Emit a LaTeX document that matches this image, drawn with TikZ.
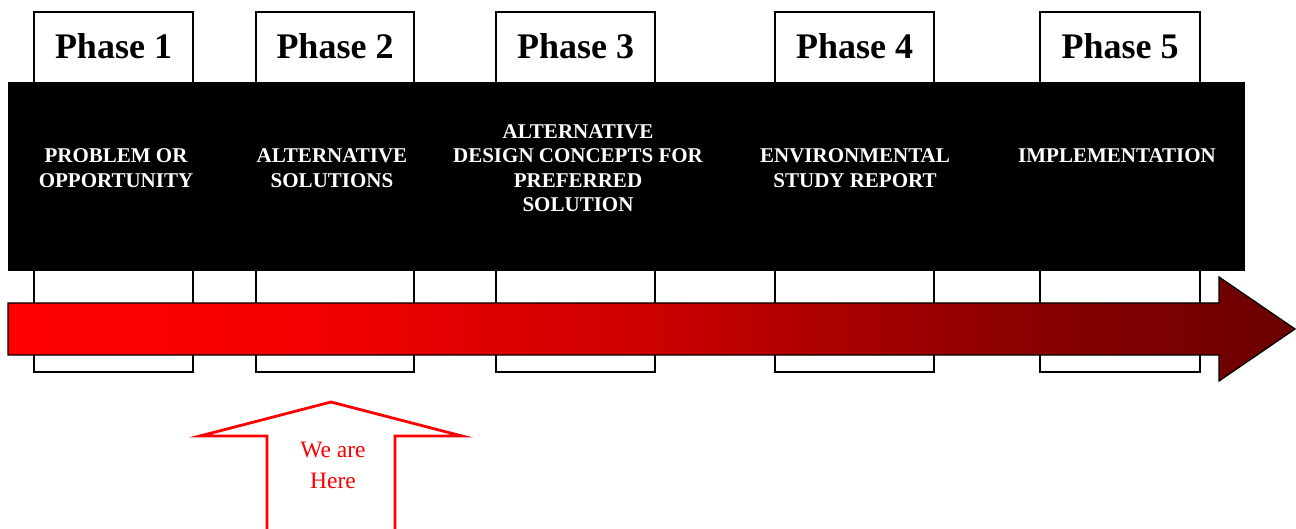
\documentclass[tikz,border=0pt]{standalone}
\usepackage{fontspec}
\setmainfont{Liberation Serif}
\pgfdeclarehorizontalshading{timeline}{100bp}{rgb(0bp)=(1,0,0); rgb(25bp)=(1,0,0); rgb(36.35bp)=(0.961,0,0); rgb(49.95bp)=(0.8,0,0); rgb(63.55bp)=(0.557,0,0); rgb(75bp)=(0.42,0,0); rgb(100bp)=(0.42,0,0)}
\begin{document}
\begin{tikzpicture}[x=1pt,y=-1pt,
  phasebox/.style={draw=black, line width=1.8pt, fill=white, inner sep=0pt, outer sep=0pt, anchor=north west, minimum height=360pt},
  phaselabel/.style={font=\fontsize{36}{40}\selectfont\bfseries, text=black, inner sep=0pt},
  bandtext/.style={text=white, font=\fontsize{21}{24.5}\selectfont\bfseries, align=center, inner sep=0pt},
  redarrow/.style={shading=timeline, draw=black, line width=1.3pt, line join=miter},
  herearrow/.style={draw=red, line width=2.8pt, fill=white, line join=miter},
  heretext/.style={text=red, font=\fontsize{23.5}{31}\selectfont, align=center, inner sep=0pt}]
\useasboundingbox (0,0) rectangle (1296,529);
% phase boxes
\node[phasebox, minimum width=159pt] (b1) at (34,12) {};
\node[phasebox, minimum width=158pt] (b2) at (256,12) {};
\node[phasebox, minimum width=159pt] (b3) at (496,12) {};
\node[phasebox, minimum width=159pt] (b4) at (775,12) {};
\node[phasebox, minimum width=160pt] (b5) at (1040,12) {};
% labels
\node[phaselabel] (l1) at (113.5,46) {Phase 1};
\node[phaselabel] (l2) at (335,46) {Phase 2};
\node[phaselabel] (l3) at (575.5,46) {Phase 3};
\node[phaselabel] (l4) at (854.5,46) {Phase 4};
\node[phaselabel] (l5) at (1120,46) {Phase 5};
% black band
\fill[black] (8,82) rectangle (1245,271);
\node[bandtext] (t1) at (116,168) {PROBLEM OR\\OPPORTUNITY};
\node[bandtext] (t2) at (332,168) {ALTERNATIVE\\SOLUTIONS};
\node[bandtext] (t3) at (578,168) {ALTERNATIVE\\DESIGN CONCEPTS FOR\\PREFERRED\\SOLUTION};
\node[bandtext] (t4) at (855,168) {ENVIRONMENTAL\\STUDY REPORT};
\node[bandtext] (t5) at (1117,156) {IMPLEMENTATION};
% red timeline arrow
\shade[redarrow] (8,303) -- (1219,303) -- (1219,277) -- (1295,329) -- (1219,381) -- (1219,355) -- (8,355) -- cycle;
% we are here arrow
\filldraw[herearrow] (267,535) -- (267,436) -- (200,436) -- (331,402) -- (462,436) -- (395,436) -- (395,535);
\node[heretext] (here) at (333,465) {We are\\Here};
\end{tikzpicture}
\end{document}
